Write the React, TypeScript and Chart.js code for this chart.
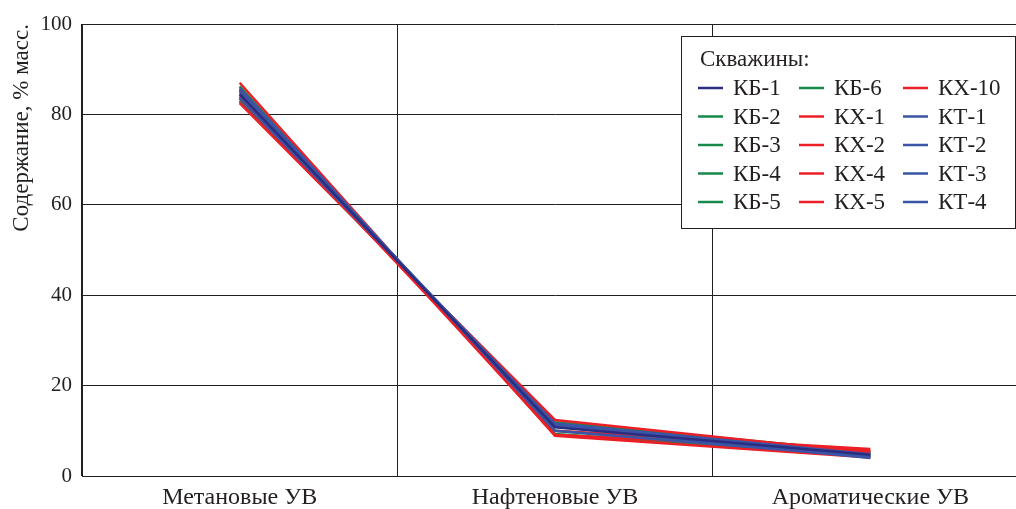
import React, { useEffect, useRef } from "react";
import { Chart, registerables } from "chart.js";

Chart.register(...registerables);

const categories = ["Метановые УВ", "Нафтеновые УВ", "Ароматические УВ"];
const yTicks = [0, 20, 40, 60, 80, 100];
const legendTitle = "Скважины:";
const axisTitle = "Содержание, % масс.";

const wellNames = [
  "КБ-1", "КБ-2", "КБ-3", "КБ-4", "КБ-5",
  "КБ-6", "КХ-1", "КХ-2", "КХ-4", "КХ-5",
  "КХ-10", "КТ-1", "КТ-2", "КТ-3", "КТ-4",
];

const kb1 = [84.5, 10.8, 4.7];
const kb2 = [83.0, 11.8, 5.2];
const kb3 = [84.0, 11.2, 4.8];
const kb4 = [85.5, 10.0, 4.5];
const kb5 = [86.2, 9.3, 4.5];
const kb6 = [82.8, 11.9, 5.3];
const kx1 = [87.0, 8.9, 4.1];
const kx2 = [82.5, 12.4, 5.1];
const kx4 = [84.0, 10.0, 6.0];
const kx5 = [85.3, 9.1, 5.6];
const kx10 = [83.5, 11.0, 5.5];
const kt1 = [85.8, 10.0, 4.2];
const kt2 = [84.5, 11.3, 4.2];
const kt3 = [85.0, 11.0, 4.0];
const kt4 = [83.6, 11.6, 4.8];

const seriesValues = [kb1, kb2, kb3, kb4, kb5, kb6, kx1, kx2, kx4, kx5, kx10, kt1, kt2, kt3, kt4];

const NAVY = "#2b2e80";
const GREEN = "#17894a";
const RED = "#ec1f26";
const BLUE = "#3a55a6";
const seriesColors = [
  NAVY, GREEN, GREEN, GREEN, GREEN,
  GREEN, RED, RED, RED, RED,
  RED, BLUE, BLUE, BLUE, BLUE,
];
const seriesOrder = [0, 2, 2, 2, 2, 2, 1, 1, 1, 1, 1, 0, 0, 0, 0];

const INK = "#231f20";
const FONT = "'Liberation Serif', 'Times New Roman', serif";

const legendPlugin = {
  id: "wellLegend",
  afterDraw(chart: any) {
    const ctx = chart.ctx;
    ctx.save();
    ctx.fillStyle = "#ffffff";
    ctx.fillRect(681.5, 36.5, 334, 192);
    ctx.strokeStyle = INK;
    ctx.lineWidth = 1;
    ctx.strokeRect(681.5, 36.5, 334, 192);
    ctx.font = `23px ${FONT}`;
    ctx.fillStyle = INK;
    ctx.textBaseline = "middle";
    ctx.textAlign = "left";
    ctx.fillText(legendTitle, 700, 60);
    const colX = [698, 799, 903];
    const rowY = [88, 116.5, 145, 173.5, 202];
    chart.data.datasets.forEach((ds: any, i: number) => {
      const c = Math.floor(i / 5);
      const r = i % 5;
      const x = colX[c];
      const y = rowY[r];
      ctx.strokeStyle = ds.borderColor;
      ctx.lineWidth = 2.5;
      ctx.beginPath();
      ctx.moveTo(x, y);
      ctx.lineTo(x + 25, y);
      ctx.stroke();
      ctx.fillStyle = INK;
      ctx.fillText(ds.label, x + 35, y + 1);
    });
    ctx.restore();
  },
};

export default function App() {
  const ref = useRef<HTMLCanvasElement | null>(null);

  useEffect(() => {
    if (!ref.current) return;
    const chart = new Chart(ref.current, {
      type: "line",
      data: {
        labels: categories,
        datasets: wellNames.map((name, i) => ({
          label: name,
          data: seriesValues[i],
          borderColor: seriesColors[i],
          backgroundColor: seriesColors[i],
          borderWidth: 2.5,
          pointRadius: 0,
          fill: false,
          tension: 0,
          order: seriesOrder[i],
        })),
      },
      options: {
        animation: false,
        responsive: false,
        maintainAspectRatio: false,
        layout: { padding: { left: 0, top: 24, right: 1040 - 1028, bottom: 0 } },
        plugins: {
          legend: { display: false },
          tooltip: { enabled: false },
        },
        scales: {
          x: {
            type: "category",
            offset: true,
            grid: { color: INK, lineWidth: 1, drawTicks: false, offset: true },
            border: { color: INK, width: 1 },
            ticks: { color: INK, font: { family: FONT, size: 24 }, padding: 7, maxRotation: 0 },
            afterFit(scale: any) {
              scale.height = 33;
            },
          },
          y: {
            min: 0,
            max: 100,
            afterBuildTicks(scale: any) {
              scale.ticks = yTicks.map((v) => ({ value: v }));
            },
            grid: { color: INK, lineWidth: 1, drawTicks: false },
            border: { color: INK, width: 1 },
            ticks: { color: INK, font: { family: FONT, size: 21 }, padding: 10 },
            title: {
              display: true,
              text: axisTitle,
              color: INK,
              align: "end",
              font: { family: FONT, size: 23 },
              padding: { top: 8, bottom: 0 },
            },
            afterFit(scale: any) {
              scale.width = 82;
            },
          },
        },
      },
      plugins: [legendPlugin],
    } as any);
    return () => chart.destroy();
  }, []);

  return (
    <div
      style={{
        position: "fixed",
        left: 0,
        top: 0,
        width: 1016,
        height: 509,
        overflow: "hidden",
        background: "#fff",
      }}
    >
      <canvas ref={ref} width={1040} height={509} style={{ display: "block", width: 1040, height: 509 }} />
    </div>
  );
}
